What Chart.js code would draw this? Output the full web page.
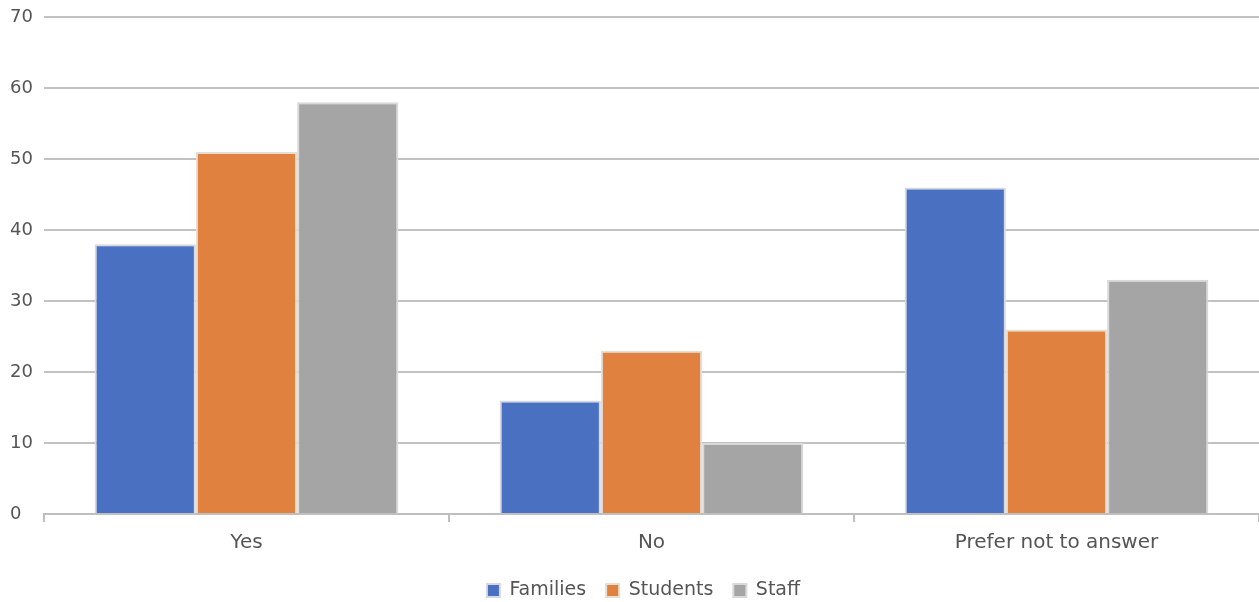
<!DOCTYPE html>
<html>
<head>
<meta charset="utf-8">
<script src="https://cdn.jsdelivr.net/npm/chart.js@4/dist/chart.umd.min.js"></script>
<style>
  html, body { margin: 0; padding: 0; background: #ffffff; }
  #wrap { width: 1259px; height: 602px; position: relative; }
</style>
</head>
<body>
<div id="wrap"><canvas id="c"></canvas></div>
<script>
// Survey responses per group
const categories = ["Yes", "No", "Prefer not to answer"];
const families = [38, 16, 46];
const students = [51, 23, 26];
const staff = [58, 10, 33];
const yTicks = [0, 10, 20, 30, 40, 50, 60, 70];

const textColor = "#555555";
const fontFamily = "'DejaVu Sans', sans-serif";

// Nudge the legend a little to the right so it sits under the plot area
const legendShift = {
  id: "legendShift",
  afterLayout(chart) {
    const lg = chart.legend;
    if (lg) { lg.left += 9; lg.right += 9; }
  }
};

new Chart(document.getElementById("c"), {
  type: "bar",
  data: {
    labels: categories,
    datasets: [
      { label: "Families", data: families, backgroundColor: "#4a70c2", borderColor: "#d6d9e0", borderWidth: 2 },
      { label: "Students", data: students, backgroundColor: "#e0813f", borderColor: "#e6ddd3", borderWidth: 2 },
      { label: "Staff", data: staff, backgroundColor: "#a5a5a5", borderColor: "#d9d9d9", borderWidth: 2 }
    ]
  },
  plugins: [legendShift],
  options: {
    responsive: true,
    maintainAspectRatio: false,
    animation: false,
    layout: { padding: { left: 10, right: 0, top: 17, bottom: -8 } },
    datasets: { bar: { barPercentage: 1.0, categoryPercentage: 0.75 } },
    plugins: {
      tooltip: { enabled: false },
      legend: {
        position: "bottom",
        labels: {
          color: textColor,
          font: { family: fontFamily, size: 19 },
          boxWidth: 13,
          boxHeight: 13,
          padding: 20
        }
      }
    },
    scales: {
      x: {
        afterFit: (scale) => { scale.height = 47; },
        grid: {
          offset: true,
          drawOnChartArea: false,
          drawTicks: true,
          tickLength: 8,
          color: "#bfbfbf",
          lineWidth: 2
        },
        border: { display: true, color: "#bfbfbf", width: 2 },
        ticks: {
          color: textColor,
          font: { family: fontFamily, size: 20 },
          padding: 9
        }
      },
      y: {
        min: 0,
        max: 70,
        afterBuildTicks: (scale) => { scale.ticks = yTicks.map(v => ({ value: v })); },
        afterFit: (scale) => { scale.width = 34; },
        grid: {
          drawTicks: false,
          color: "#c2c2c2",
          lineWidth: 2
        },
        border: { display: false },
        ticks: {
          color: textColor,
          font: { family: fontFamily, size: 18 },
          crossAlign: "far",
          padding: 0
        }
      }
    }
  }
});
</script>
</body>
</html>
